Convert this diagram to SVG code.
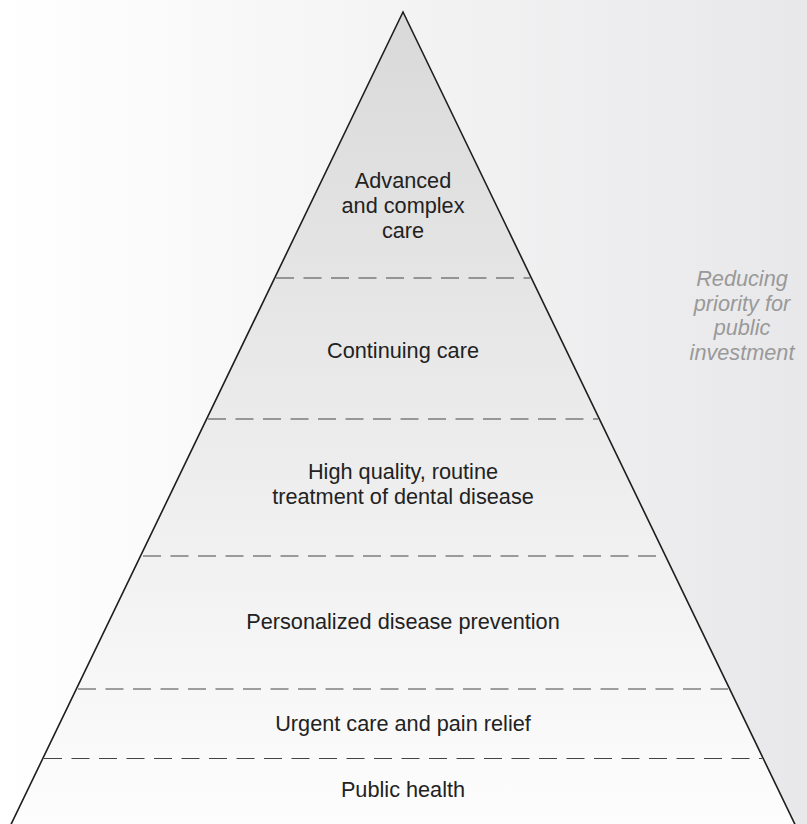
<svg xmlns="http://www.w3.org/2000/svg" width="807" height="824" viewBox="0 0 807 824">
<defs>
<linearGradient id="bg" x1="0" y1="0" x2="807" y2="0" gradientUnits="userSpaceOnUse">
<stop offset="0" stop-color="#ffffff"/>
<stop offset="1" stop-color="#e8e8ea"/>
</linearGradient>
<linearGradient id="pyr" x1="0" y1="12" x2="0" y2="824" gradientUnits="userSpaceOnUse">
<stop offset="0" stop-color="#d9d9d9"/>
<stop offset="1" stop-color="#fdfdfd"/>
</linearGradient>
<style>
.t{font-family:"Liberation Sans",Arial,sans-serif;font-size:21.7px;fill:#222;text-anchor:middle}
.side{font-family:"Liberation Sans",Arial,sans-serif;font-size:21.7px;fill:#999;font-style:italic;text-anchor:middle}
.sep{stroke:#444;stroke-width:1.2;stroke-dasharray:18 9.5;fill:none}
.edge{fill:url(#pyr);stroke:#1e1e1e;stroke-width:1.6;stroke-linejoin:miter}
</style>
</defs>
<rect x="0" y="0" width="807" height="824" fill="url(#bg)"/>
<polygon class="edge" points="403,12 797.7,830 8.3,830"/>
<g id="separators">
<line class="sep" x1="276" y1="278" x2="530" y2="278"/>
<line class="sep" x1="208" y1="419" x2="598" y2="419"/>
<line class="sep" x1="143" y1="556" x2="664" y2="556"/>
<line class="sep" x1="78" y1="689" x2="728" y2="689"/>
<line class="sep" x1="44" y1="758.5" x2="762" y2="758.5"/>
</g>
<g id="tier-advanced">
<text class="t" x="403" y="188.3">Advanced</text>
<text class="t" x="403" y="213">and complex</text>
<text class="t" x="403" y="237.7">care</text>
</g>
<g id="tier-continuing">
<text class="t" x="403" y="358">Continuing care</text>
</g>
<g id="tier-routine">
<text class="t" x="403" y="479">High quality, routine</text>
<text class="t" x="403" y="504">treatment of dental disease</text>
</g>
<g id="tier-prevention">
<text class="t" x="403" y="629.3">Personalized disease prevention</text>
</g>
<g id="tier-urgent">
<text class="t" x="403" y="730.5">Urgent care and pain relief</text>
</g>
<g id="tier-public">
<text class="t" x="403" y="797.3">Public health</text>
</g>
<g id="side-label">
<text class="side" x="742" y="285.7">Reducing</text>
<text class="side" x="742" y="310.5">priority for</text>
<text class="side" x="742" y="335.3">public</text>
<text class="side" x="742" y="360">investment</text>
</g>
</svg>
